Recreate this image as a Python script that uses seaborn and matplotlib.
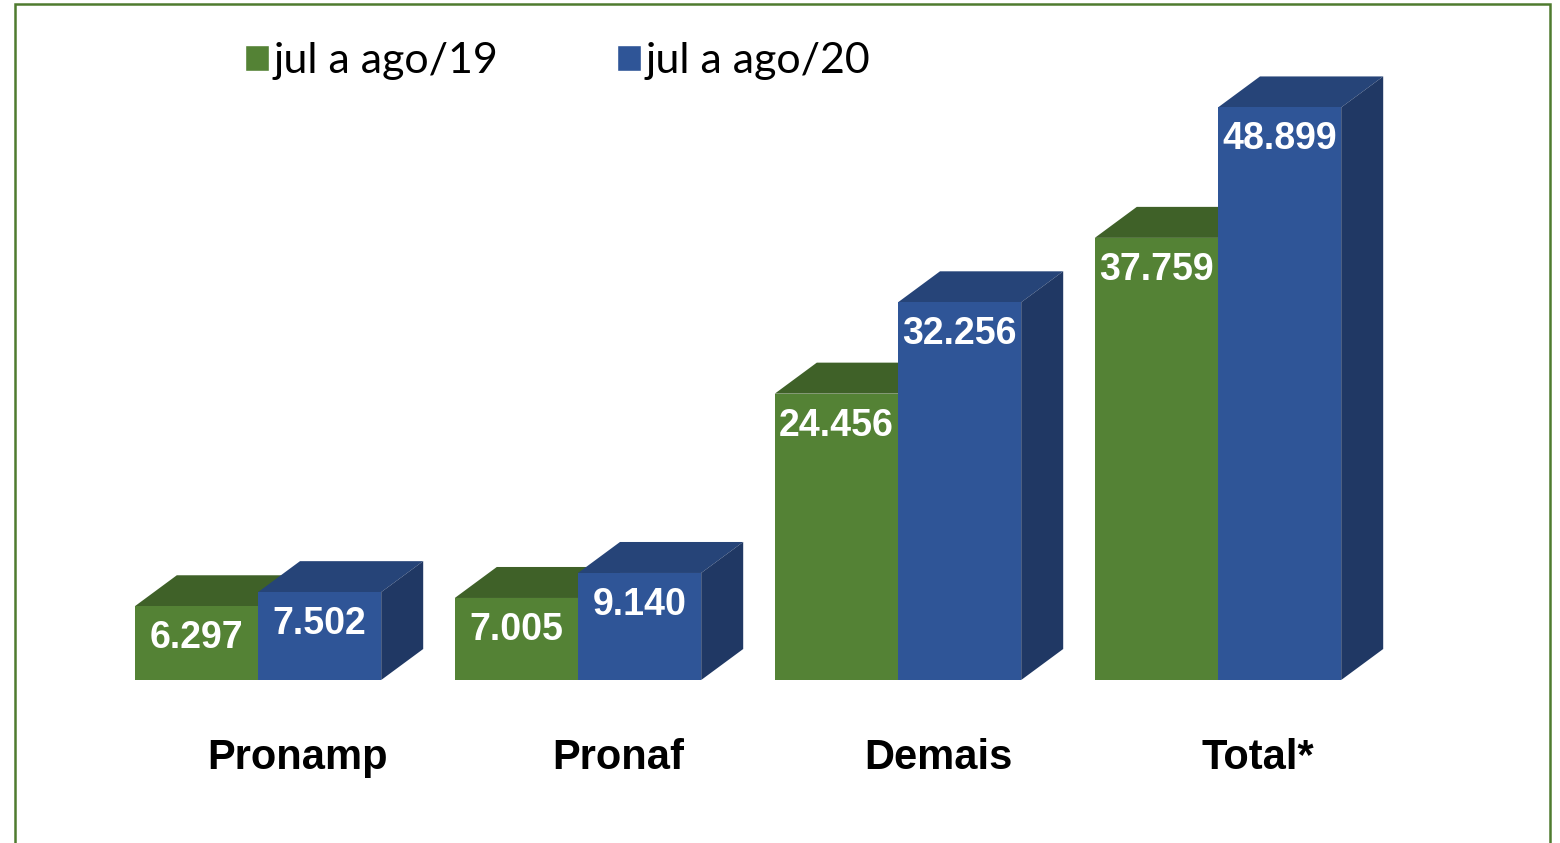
import pandas as pd
import seaborn as sns
import matplotlib.pyplot as plt
from matplotlib.patches import Polygon, Rectangle

# dados (R$ milhões)
categorias = ["Pronamp", "Pronaf", "Demais", "Total*"]
periodos = ["jul a ago/19", "jul a ago/20"]
valores_19 = [6297, 7005, 24456, 37759]
valores_20 = [7502, 9140, 32256, 48899]

df = pd.DataFrame({
    "categoria": categorias * 2,
    "periodo": [periodos[0]] * 4 + [periodos[1]] * 4,
    "valor": valores_19 + valores_20,
})

frente = ["#548235", "#2f5597"]
topo = ["#3f6128", "#264478"]
lado = ["#33501f", "#203864"]

sns.set_style("white")
plt.rcParams["font.family"] = ["Liberation Sans", "DejaVu Sans"]
plt.rcParams["text.color"] = "black"
plt.rcParams["xtick.color"] = "black"

fig = plt.figure(figsize=(15.6, 8.43), dpi=100)
ax = fig.add_axes([66 / 1560, 163 / 843, 1408 / 1560, 644 / 843])

sns.barplot(data=df, x="categoria", y="valor", hue="periodo", palette=frente,
            width=0.77, gap=0, saturation=1, ax=ax, legend=True)
ax.set_xlim(-0.6, 3.8)
ax.set_ylim(0, 55000)

# profundidade do efeito 3D, em pixels -> dados
inv = ax.transData.inverted()
x0d, y0d = inv.transform(ax.transData.transform((0, 0)))
dxd, dyd = inv.transform(ax.transData.transform((0, 0)) + [42, 31])
dx, dy = dxd - x0d, dyd - y0d

for i, cont in enumerate(ax.containers):
    for bar in cont:
        x0 = bar.get_x()
        x1 = x0 + bar.get_width()
        h = bar.get_height()
        z = 2 + 2 * i
        bar.set_zorder(z + 1)
        bar.set_edgecolor("none")
        ax.add_patch(Polygon([(x0, h), (x1, h), (x1 + dx, h + dy), (x0 + dx, h + dy)],
                             closed=True, facecolor=topo[i], edgecolor="none",
                             zorder=z, clip_on=False))
        ax.add_patch(Polygon([(x1, 0), (x1, h), (x1 + dx, h + dy), (x1 + dx, dy)],
                             closed=True, facecolor=lado[i], edgecolor="none",
                             zorder=z, clip_on=False))
        txt = f"{int(h):,}".replace(",", ".")
        ax.annotate(txt, (x0 + bar.get_width() / 2, h), xytext=(0, -23),
                    textcoords="offset points", ha="center", va="center",
                    color="white", fontsize=27, fontweight="bold", zorder=10)

ax.set_xticks([k + 0.125 for k in range(len(categorias))])
ax.set_xticklabels(categorias, fontsize=30, fontweight="bold", color="black")
ax.tick_params(axis="x", length=0, pad=42)
ax.set_yticks([])
ax.set_xlabel("")
ax.set_ylabel("")
for s in ax.spines.values():
    s.set_visible(False)

handles, labels = ax.get_legend_handles_labels()
leg = ax.legend(handles, labels, ncol=2, loc="upper left",
                bbox_to_anchor=(245 / 1560, 1 - 42 / 843), bbox_transform=fig.transFigure,
                frameon=False, borderpad=0, borderaxespad=0, handlelength=0.55,
                handleheight=0.55, handletextpad=0.12, columnspacing=2.75,
                prop={"family": "Lato", "size": 31})
for t in leg.get_texts():
    t.set_color("black")

fig.patches.append(Rectangle((15 / 1560, -0.02), 1535 / 1560, 1.02 - 4 / 843,
                             transform=fig.transFigure, fill=False,
                             edgecolor="#4f7b2f", linewidth=1.8))

fig.savefig("out.png", dpi=100)
